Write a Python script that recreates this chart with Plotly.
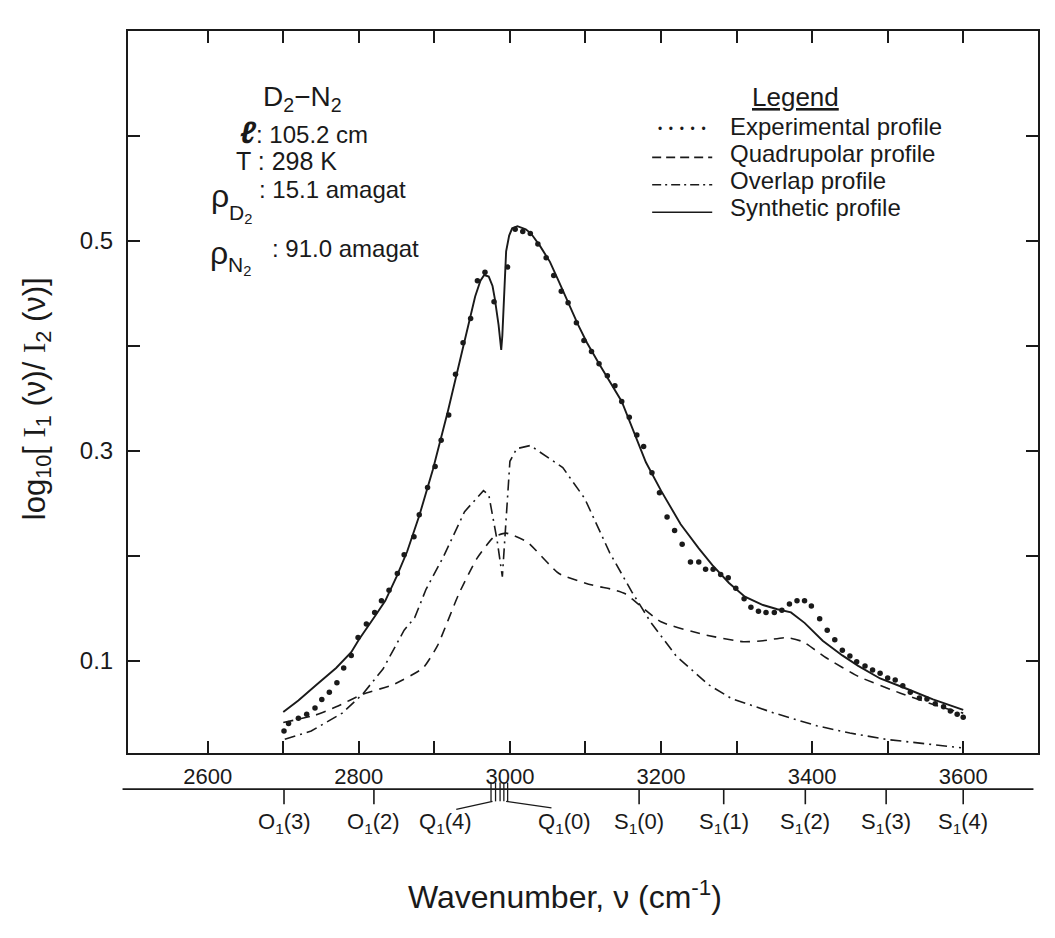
import plotly.graph_objects as go

# ---------------- data ----------------
wn_exp = [2701, 2707, 2720, 2731, 2742, 2751, 2761, 2771, 2780, 2790, 2799, 2810,
          2821, 2830, 2840, 2851, 2860, 2873, 2880, 2891, 2901, 2909, 2919, 2928,
          2938, 2948, 2957, 2967, 2979, 2997, 3007, 3017, 3027, 3037, 3048, 3058, 3068,
          3077, 3088, 3098, 3108, 3118, 3129, 3139, 3148, 3158, 3168, 3177, 3188,
          3198, 3208, 3218, 3228, 3239, 3250, 3259, 3269, 3279, 3289, 3299, 3310,
          3319, 3329, 3339, 3350, 3360, 3370, 3380, 3390, 3399, 3410, 3420, 3430,
          3440, 3450, 3459, 3470, 3480, 3490, 3500, 3510, 3520, 3530, 3542, 3552,
          3563, 3574, 3583, 3592, 3600]
abs_exp = [0.033, 0.040, 0.045, 0.049, 0.055, 0.063, 0.070, 0.079, 0.093, 0.105, 0.122, 0.135,
           0.146, 0.157, 0.167, 0.183, 0.201, 0.218, 0.239, 0.265, 0.285, 0.310, 0.334, 0.373,
           0.403, 0.426, 0.462, 0.470, 0.442, 0.475, 0.511, 0.509, 0.507, 0.497, 0.484, 0.467, 0.452,
           0.441, 0.422, 0.405, 0.3945, 0.383, 0.3715, 0.362, 0.347, 0.332, 0.315, 0.304, 0.279,
           0.260, 0.237, 0.224, 0.211, 0.194, 0.194, 0.187, 0.187, 0.182, 0.179, 0.169, 0.159,
           0.151, 0.147, 0.146, 0.146, 0.148, 0.154, 0.157, 0.157, 0.152, 0.140, 0.129, 0.120,
           0.110, 0.1045, 0.099, 0.095, 0.091, 0.088, 0.0835, 0.0815, 0.076, 0.070, 0.0645, 0.0635,
           0.059, 0.056, 0.052, 0.049, 0.046]

wn_syn = [2700, 2720, 2744, 2770, 2790, 2800, 2822, 2835, 2850, 2864, 2880, 2898, 2918,
          2939, 2954, 2961, 2966, 2972, 2977, 2980, 2985, 2988.5, 2990, 2995, 2999, 3003,
          3010, 3021, 3028, 3040, 3053, 3065, 3077, 3090, 3102, 3118, 3148, 3180, 3200,
          3226, 3250, 3268, 3290, 3311, 3335, 3354, 3372, 3390, 3414, 3440, 3461, 3490,
          3526, 3560, 3600]
abs_syn = [0.051, 0.062, 0.077, 0.093, 0.108, 0.120, 0.143, 0.157, 0.180, 0.204, 0.238, 0.282, 0.338,
           0.400, 0.447, 0.462, 0.4675, 0.466, 0.457, 0.445, 0.420, 0.396, 0.410, 0.490, 0.505, 0.512,
           0.514, 0.511, 0.507, 0.495, 0.480, 0.461, 0.4415, 0.4205, 0.403, 0.383, 0.347, 0.289, 0.262,
           0.230, 0.207, 0.191, 0.174, 0.161, 0.153, 0.149, 0.146, 0.136, 0.119, 0.105, 0.095, 0.083,
           0.073, 0.063, 0.053]

wn_quad = [2700, 2742, 2770, 2805, 2845, 2885, 2904, 2932, 2956, 2979, 2995, 3023, 3065,
           3109, 3135, 3152, 3200, 3256, 3309, 3335, 3366, 3388, 3418, 3461, 3517, 3570, 3600]
abs_quad = [0.041, 0.048, 0.056, 0.068, 0.077, 0.093, 0.114, 0.163, 0.197, 0.218, 0.2215, 0.213, 0.183,
            0.172, 0.168, 0.164, 0.137, 0.125, 0.118, 0.119, 0.122, 0.118, 0.103, 0.085, 0.069, 0.056, 0.050]

wn_ovl = [2702, 2737, 2778, 2805, 2832, 2860, 2874, 2889, 2912, 2940, 2965, 2972, 2983,
          2990, 3000, 3009, 3027, 3070, 3099, 3132, 3161, 3186, 3220, 3263, 3293, 3350,
          3406, 3450, 3498, 3550, 3597]
abs_ovl = [0.025, 0.033, 0.050, 0.068, 0.092, 0.129, 0.141, 0.168, 0.199, 0.242, 0.262, 0.258, 0.215,
           0.180, 0.290, 0.302, 0.305, 0.284, 0.2545, 0.203, 0.166, 0.137, 0.1045, 0.077, 0.064, 0.050,
           0.038, 0.031, 0.025, 0.021, 0.017]

x_tickvals = [2600, 2700, 2800, 2900, 3000, 3100, 3200, 3300, 3400, 3500, 3600]
x_ticktext = ["2600", "", "2800", "", "3000", "", "3200", "", "3400", "", "3600"]
y_tickvals = [0.1, 0.2, 0.3, 0.4, 0.5, 0.6]
y_ticktext = ["0.1", "", "0.3", "", "0.5", ""]

# transition markers on the lower scale
trans_pos = [2701, 2820, 3171, 3283, 3391, 3498, 3600]
trans_labels = ["O<sub>1</sub>(3)", "O<sub>1</sub>(2)", "S<sub>1</sub>(0)", "S<sub>1</sub>(1)",
                "S<sub>1</sub>(2)", "S<sub>1</sub>(3)", "S<sub>1</sub>(4)"]
q_branch_pos = [2975, 2981, 2987, 2992, 2997]
q_labels = ["Q<sub>1</sub>(4)", "Q<sub>1</sub>(0)"]
q_label_pos = [2915, 3072]

FONT = "Liberation Sans, Arial, sans-serif"
SERIF_I = "<span style='font-family:Liberation Serif'>I</span>"
INK = "#1a1a1a"

fig = go.Figure()
fig.add_trace(go.Scatter(x=wn_syn, y=abs_syn, mode="lines", name="Synthetic profile",
                         line=dict(color=INK, width=1.9), showlegend=False))
fig.add_trace(go.Scatter(x=wn_quad, y=abs_quad, mode="lines", name="Quadrupolar profile",
                         line=dict(color=INK, width=1.6, dash="10px,7px", shape="spline", smoothing=0.5),
                         showlegend=False))
fig.add_trace(go.Scatter(x=wn_ovl, y=abs_ovl, mode="lines", name="Overlap profile",
                         line=dict(color=INK, width=1.6, dash="11px,5px,2px,5px"), showlegend=False))
fig.add_trace(go.Scatter(x=wn_exp, y=abs_exp, mode="markers", name="Experimental profile",
                         marker=dict(color=INK, size=5.5, symbol="circle"), showlegend=False))

# ------------- legend (drawn manually) -------------
shapes = []
annotations = []
leg_x0, leg_x1, leg_tx = 0.576, 0.642, 0.659
leg_y = [0.868, 0.831, 0.793, 0.755]
leg_names = ["Experimental profile", "Quadrupolar profile", "Overlap profile", "Synthetic profile"]
leg_dash = [None, "9px,5px", "9px,4px,2px,4px", "solid"]
annotations.append(dict(text="<u>Legend</u>", x=0.734, y=0.908, xref="paper", yref="paper",
                        showarrow=False, font=dict(size=26, family=FONT, color=INK),
                        xanchor="center", yanchor="middle"))
for i, nm in enumerate(leg_names):
    annotations.append(dict(text=nm, x=leg_tx, y=leg_y[i], xref="paper", yref="paper",
                            showarrow=False, font=dict(size=24, family=FONT, color=INK),
                            xanchor="left", yanchor="middle"))
    if leg_dash[i] is None:
        annotations.append(dict(text="•  •  •  •  •", x=(leg_x0 + leg_x1) / 2, y=leg_y[i] - 0.004,
                                xref="paper", yref="paper", showarrow=False,
                                font=dict(size=12, family=FONT, color=INK),
                                xanchor="center", yanchor="middle"))
    else:
        shapes.append(dict(type="line", xref="paper", yref="paper", x0=leg_x0, x1=leg_x1,
                           y0=leg_y[i] - 0.006, y1=leg_y[i] - 0.006,
                           line=dict(color=INK, width=1.6, dash=leg_dash[i])))

# ------------- sample parameter block -------------
def ann(text, x, y, size, xanchor="center"):
    return dict(text=text, x=x, y=y, xref="paper", yref="paper", showarrow=False,
                xanchor=xanchor, yanchor="middle", font=dict(size=size, family=FONT, color=INK))

annotations += [
    ann("D<sub>2</sub>−N<sub>2</sub>", 0.192, 0.906, 28),
    ann("<b><i><span style='font-size:31px'>ℓ</span></i></b>: 105.2 cm", 0.193, 0.859, 24),
    ann("T : 298 K", 0.1745, 0.820, 25),
    ann("ρ", 0.1007, 0.772, 32),
    ann("D<sub>2</sub>", 0.124, 0.747, 21),
    ann(": 15.1 amagat", 0.142, 0.780, 24, "left"),
    ann("ρ", 0.1002, 0.693, 32),
    ann("N<sub>2</sub>", 0.122, 0.675, 21),
    ann(": 91.0 amagat", 0.156, 0.699, 24, "left"),
]

# ------------- lower transition scale -------------
y_line = -0.050
y_tick_end = y_line - 0.021
y_lab = -0.097
shapes.append(dict(type="line", xref="paper", yref="paper", x0=-0.006, x1=0.995,
                   y0=y_line, y1=y_line, line=dict(color=INK, width=1.6)))
for p, lab in zip(trans_pos, trans_labels):
    shapes.append(dict(type="line", xref="x", yref="paper", x0=p, x1=p, y0=y_line, y1=y_tick_end,
                       line=dict(color=INK, width=1.6)))
    annotations.append(dict(text=lab, x=p, y=y_lab, xref="x", yref="paper", showarrow=False,
                            font=dict(size=22, family=FONT, color=INK), xanchor="center", yanchor="middle"))
for p in q_branch_pos:
    shapes.append(dict(type="line", xref="x", yref="paper", x0=p, x1=p, y0=y_line + 0.009,
                       y1=y_tick_end + 0.004, line=dict(color=INK, width=1.3)))
shapes.append(dict(type="line", xref="x", yref="paper", x0=q_branch_pos[0] + 2, x1=q_label_pos[0] + 14,
                   y0=y_tick_end + 0.004, y1=y_lab + 0.019, line=dict(color=INK, width=1.3)))
shapes.append(dict(type="line", xref="x", yref="paper", x0=q_branch_pos[-1] - 2, x1=q_label_pos[1] - 17,
                   y0=y_tick_end + 0.004, y1=y_lab + 0.021, line=dict(color=INK, width=1.3)))
for p, lab in zip(q_label_pos, q_labels):
    annotations.append(dict(text=lab, x=p, y=y_lab, xref="x", yref="paper", showarrow=False,
                            font=dict(size=22, family=FONT, color=INK), xanchor="center", yanchor="middle"))

# axis titles
annotations.append(ann("Wavenumber, ν (cm<sup>-1</sup>)", 0.48, -0.197, 32))
annotations.append(dict(text="log<sub>10</sub>[ " + SERIF_I + "<sub>1</sub> (ν)/ " + SERIF_I + "<sub>2</sub> (ν)]",
                        x=-0.10, y=0.49, xref="paper", yref="paper", showarrow=False, textangle=-90,
                        font=dict(size=31, family=FONT, color=INK), xanchor="center", yanchor="middle"))

axis_common = dict(showline=True, linecolor=INK, linewidth=2, mirror="ticks", ticks="inside",
                   ticklen=12, tickwidth=1.5, tickcolor=INK, showgrid=False, zeroline=False)

fig.update_layout(
    width=1055, height=938,
    margin=dict(l=128, r=17, t=31, b=185),
    paper_bgcolor="white", plot_bgcolor="white",
    showlegend=False,
    xaxis=dict(range=[2494.5, 3699], tickmode="array", tickvals=x_tickvals, ticktext=x_ticktext,
               ticklabelstandoff=3, tickfont=dict(size=22, family=FONT, color=INK), **axis_common),
    yaxis=dict(range=[0.012, 0.700], tickmode="array", tickvals=y_tickvals, ticktext=y_ticktext,
               ticklabelstandoff=8, tickfont=dict(size=24, family=FONT, color=INK), **axis_common),
    shapes=shapes,
    annotations=annotations,
)

fig.write_html("out.html")
